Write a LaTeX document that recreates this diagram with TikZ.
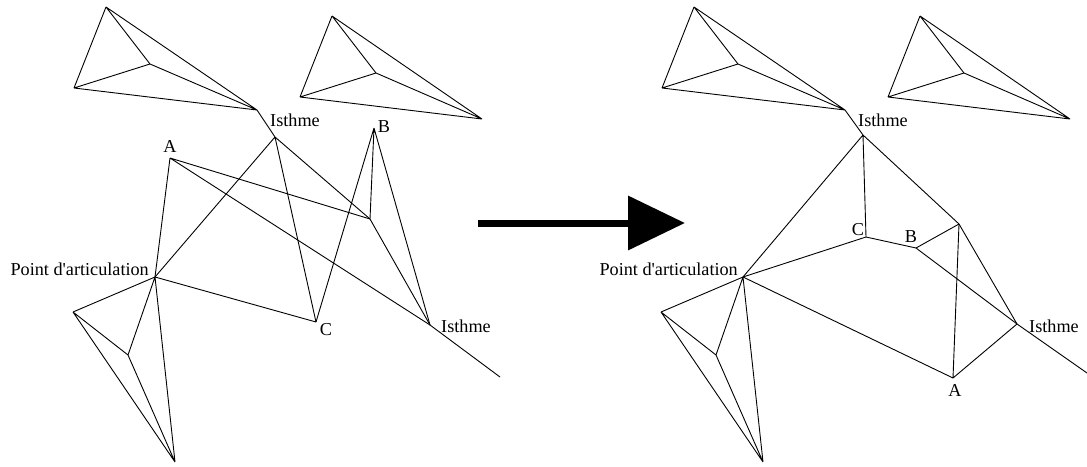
\documentclass[tikz,border=0pt]{standalone}
\usepackage{fontspec}
\setmainfont{Liberation Serif}
\usetikzlibrary{arrows.meta}
\begin{document}
\begin{tikzpicture}[x=1pt,y=-1pt,
  edge/.style={line width=0.9pt, line join=round},
  lbl/.style={font=\fontsize{18.2}{21}\selectfont, inner sep=0pt},
  bigarrow/.style={line width=7pt, -{Triangle[length=57pt,width=53pt]}}]
\useasboundingbox (0,0) rectangle (1087,466);

% ---------------- left graph ----------------
\coordinate (T1) at (106,7);   \coordinate (L1) at (74,88);
\coordinate (C1) at (150,64);  \coordinate (R1) at (257,110);
\coordinate (I1) at (275,137);
\coordinate (T2) at (332,16);  \coordinate (L2) at (300,97);
\coordinate (C2) at (376,73);  \coordinate (R2) at (482,119);
\coordinate (P) at (155,277);  \coordinate (L3) at (73,312);
\coordinate (C3) at (128,355); \coordinate (B3) at (175,462);
\coordinate (A) at (170,158);  \coordinate (B) at (374,128);
\coordinate (C) at (316,322);  \coordinate (X) at (370,219);
\coordinate (I2) at (430,325); \coordinate (E) at (500,377);

\draw[edge] (T1)--(L1) (T1)--(C1) (T1)--(R1) (L1)--(C1) (L1)--(R1) (C1)--(R1);
\draw[edge] (T2)--(L2) (T2)--(C2) (T2)--(R2) (L2)--(C2) (L2)--(R2) (C2)--(R2);
\draw[edge] (P)--(L3) (P)--(C3) (P)--(B3) (L3)--(C3) (L3)--(B3) (C3)--(B3);
\draw[edge] (R1)--(I1) (I1)--(P) (I1)--(C) (I1)--(X);
\draw[edge] (A)--(P) (A)--(X) (A)--(I2);
\draw[edge] (B)--(X) (B)--(C) (B)--(I2);
\draw[edge] (X)--(I2) (P)--(C) (I2)--(E);

\node[lbl, anchor=base] (lI1) at (295,126) {Isthme};
\node[lbl, anchor=base] (lI2) at (466,332) {Isthme};
\node[lbl, anchor=base east] (lP) at (149,275) {Point d\textquotesingle articulation};
\node[lbl, anchor=base] (lA) at (170,152) {A};
\node[lbl, anchor=base] (lB) at (384,132) {B};
\node[lbl, anchor=base] (lC) at (326,335) {C};

% ---------------- arrow ----------------
\coordinate (arrS) at (478,223);
\coordinate (arrE) at (685,223);
\draw[bigarrow] (arrS) -- (arrE);

% ---------------- right graph ----------------
\coordinate (rT1) at (694,7);   \coordinate (rL1) at (662,88);
\coordinate (rC1) at (738,64);  \coordinate (rR1) at (845,110);
\coordinate (rI1) at (863,135);
\coordinate (rT2) at (920,16);  \coordinate (rL2) at (888,97);
\coordinate (rC2) at (964,73);  \coordinate (rR2) at (1070,119);
\coordinate (rP) at (743,277);  \coordinate (rL3) at (661,312);
\coordinate (rC3) at (716,355); \coordinate (rB3) at (763,462);
\coordinate (rA) at (953,378);  \coordinate (rB) at (916,248);
\coordinate (rC) at (866,237);  \coordinate (rX) at (959,224);
\coordinate (rI2) at (1017,324); \coordinate (rE) at (1087,373);

\draw[edge] (rT1)--(rL1) (rT1)--(rC1) (rT1)--(rR1) (rL1)--(rC1) (rL1)--(rR1) (rC1)--(rR1);
\draw[edge] (rT2)--(rL2) (rT2)--(rC2) (rT2)--(rR2) (rL2)--(rC2) (rL2)--(rR2) (rC2)--(rR2);
\draw[edge] (rP)--(rL3) (rP)--(rC3) (rP)--(rB3) (rL3)--(rC3) (rL3)--(rB3) (rC3)--(rB3);
\draw[edge] (rR1)--(rI1) (rI1)--(rP) (rI1)--(rC) (rI1)--(rX);
\draw[edge] (rA)--(rP) (rA)--(rX) (rA)--(rI2);
\draw[edge] (rB)--(rX) (rB)--(rC) (rB)--(rI2);
\draw[edge] (rX)--(rI2) (rP)--(rC) (rI2)--(rE);

\node[lbl, anchor=base] (rlI1) at (883,126) {Isthme};
\node[lbl, anchor=base] (rlI2) at (1054,332) {Isthme};
\node[lbl, anchor=base east] (rlP) at (738,275) {Point d\textquotesingle articulation};
\node[lbl, anchor=base] (rlA) at (955,396) {A};
\node[lbl, anchor=base] (rlB) at (911,242) {B};
\node[lbl, anchor=base] (rlC) at (858,235) {C};
\end{tikzpicture}
\end{document}
